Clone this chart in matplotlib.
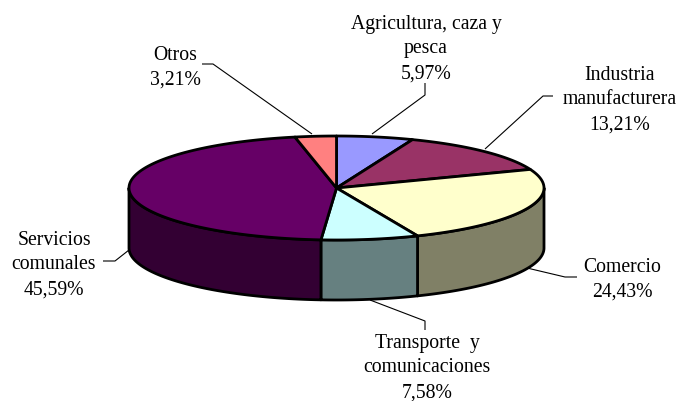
import numpy as np
import matplotlib
matplotlib.use("Agg")
import matplotlib.pyplot as plt
from matplotlib.patches import Polygon

categories = ["Agricultura, caza y\npesca", "Industria\nmanufacturera", "Comercio",
              "Transporte  y\ncomunicaciones", "Servicios\ncomunales", "Otros"]
values = [5.97, 13.21, 24.43, 7.58, 45.59, 3.21]
value_labels = ["5,97%", "13,21%", "24,43%", "7,58%", "45,59%", "3,21%"]
top_colors = ["#9999FF", "#993366", "#FFFFCC", "#CCFFFF", "#660066", "#FF8080"]
side_colors = ["#4D4D80", "#4D1A33", "#808066", "#668080", "#330033", "#804040"]

# layout, in pixels of the 681x402 picture
CX, CY, RX, RY, DEPTH = 336.5, 189.0, 207.5, 52.0, 60.0
label_pos = [(426, 49), (620, 100), (622, 280), (427, 368), (54, 265), (175, 68)]
leaders = [
    [(425, 84), (425, 96), (372, 135)],
    [(553, 97), (543, 97), (485, 150)],
    [(577, 278), (565, 278), (527, 269)],
    [(425, 331), (425, 322), (370, 301)],
    [(103, 262), (115, 262), (129, 251)],
    [(202, 65), (213, 65), (312, 135)],
]

fig = plt.figure(figsize=(6.81, 4.02), dpi=100)
ax = fig.add_axes([0, 0, 1, 1])
ax.set_xlim(0, 681)
ax.set_ylim(402, 0)
ax.axis("off")


def rim(a0, a1, dy=0.0):
    t = np.radians(np.linspace(a0, a1, max(2, int(abs(a1 - a0) * 2))))
    return np.column_stack([CX + RX * np.sin(t), CY - RY * np.cos(t) + dy])


edges = np.concatenate([[0], np.cumsum(values)]) / sum(values) * 360.0

for pts in leaders:
    xs, ys = zip(*pts)
    ax.plot(xs, ys, color="black", lw=0.8, solid_capstyle="butt", zorder=1)

# outer wall: only the front half of the disc (90 to 270 degrees clockwise from top)
for i in range(len(values)):
    a0, a1 = max(edges[i], 90), min(edges[i + 1], 270)
    if a1 <= a0:
        continue
    pts = np.vstack([rim(a0, a1), rim(a0, a1, DEPTH)[::-1]])
    ax.add_patch(Polygon(pts, closed=True, fc=side_colors[i], ec="black", lw=2.0,
                         joinstyle="round", zorder=2))

# top faces
for i in range(len(values)):
    pts = np.vstack([[CX, CY], rim(edges[i], edges[i + 1])])
    ax.add_patch(Polygon(pts, closed=True, fc=top_colors[i], ec="black", lw=2.0,
                         joinstyle="round", zorder=3))

for (x, y), name, val in zip(label_pos, categories, value_labels):
    ax.text(x, y, f"{name}\n{val}", ha="center", va="center", fontsize=14.2,
            family="Liberation Serif", color="black", linespacing=1.42)

fig.savefig("out.png", dpi=100, facecolor="white")
